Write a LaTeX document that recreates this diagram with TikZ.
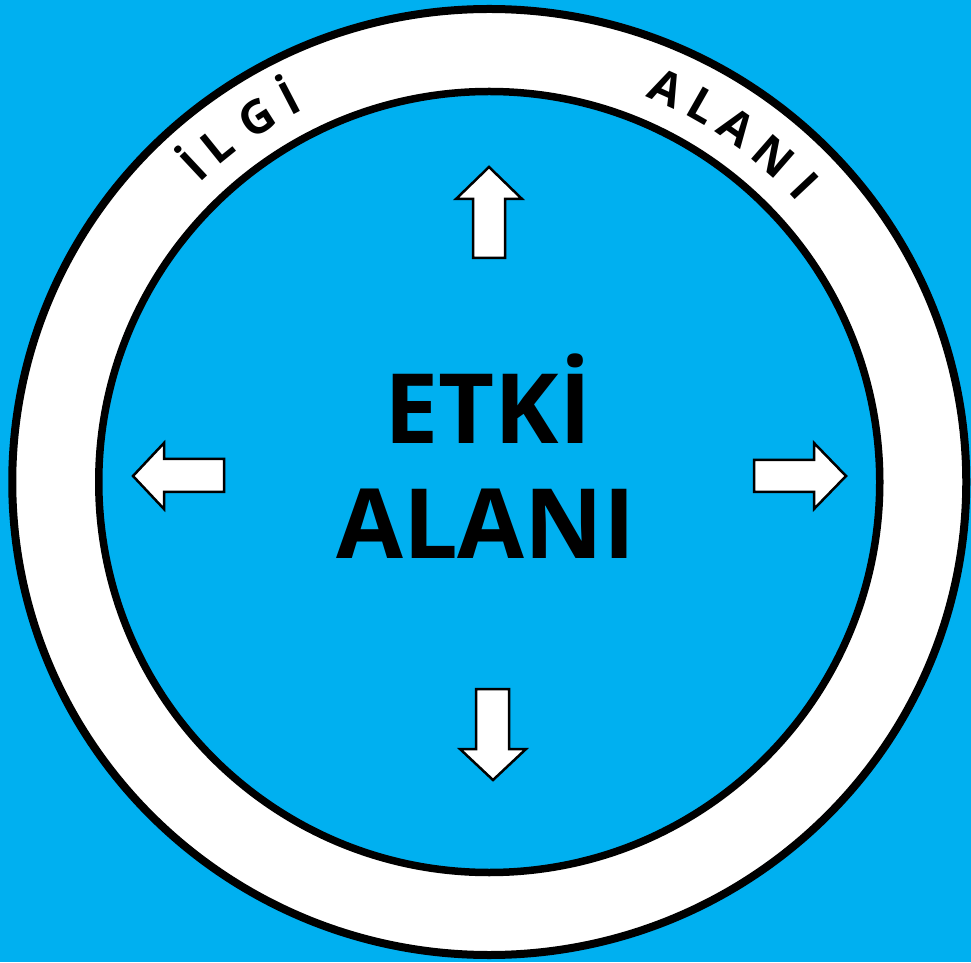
\documentclass[tikz,border=0pt]{standalone}
\usepackage{fontspec}
\setmainfont{Open Sans}
\usetikzlibrary{calc}
\definecolor{bg}{HTML}{00B0F0}
\tikzset{
  ringtxt/.style={font=\bfseries\fontsize{46}{50}\selectfont, inner sep=0pt, anchor=base},
  maintxt/.style={font=\bfseries\fontsize{97}{115}\selectfont, inner sep=0pt, anchor=base},
  arrowshape/.style={draw=black, fill=white, line width=2.5pt, line join=miter}
}
\begin{document}
\begin{tikzpicture}[x=1pt,y=1pt]
\useasboundingbox (0,0) rectangle (971,962);
\fill[bg] (0,0) rectangle (971,962);
\coordinate (c) at (489.25,480);
\draw[line width=8pt, fill=white] (c) ellipse [x radius=477, y radius=473];
\draw[line width=7.5pt, fill=bg] (c) circle [radius=390.5];
% ring text
\foreach \ch/\ang [count=\i] in {İ/133.1, L/128.9, G/122.5, İ/117.5, A/65.8, L/60.4, A/55.1, N/48.9, I/43.2}
  \node[ringtxt, rotate=\ang-90] (r\i) at ($(c)+(\ang:416pt)$) {\ch};
% main text
\node[maintxt] (etki) at (488,518) {ETKİ};
\node[maintxt] (alani) at (486,403) {ALANI};
% arrows
\draw[arrowshape] (489,795) -- (522,763) -- (505,763) -- (505,704) -- (473,704) -- (473,763) -- (456,763) -- cycle;
\draw[arrowshape] (493,182) -- (526,213) -- (509,213) -- (509,273) -- (476,273) -- (476,213) -- (460,213) -- cycle;
\draw[arrowshape] (133,486) -- (164,519) -- (164,503) -- (224,503) -- (224,470) -- (164,470) -- (164,453) -- cycle;
\draw[arrowshape] (846,486) -- (814,519) -- (814,502) -- (754,502) -- (754,470) -- (814,470) -- (814,453) -- cycle;
\end{tikzpicture}
\end{document}
